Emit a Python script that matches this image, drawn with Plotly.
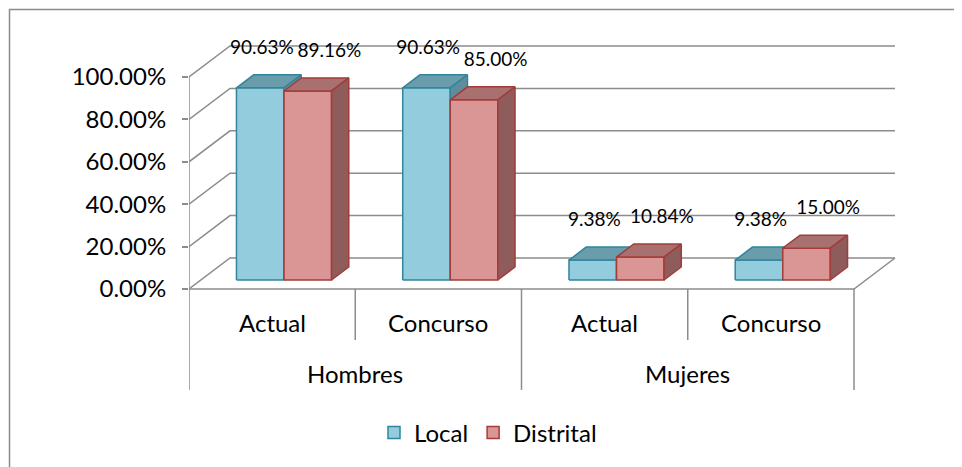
import plotly.graph_objects as go

# ---- data ----
groups = ["Hombres", "Mujeres"]
subcats = ["Actual", "Concurso", "Actual", "Concurso"]
series_names = ["Local", "Distrital"]
local_vals = [0.9063, 0.9063, 0.0938, 0.0938]
distrital_vals = [0.8916, 0.8500, 0.1084, 0.1500]
tick_vals = [0.0, 0.2, 0.4, 0.6, 0.8, 1.0]
tick_text = ["0.00%", "20.00%", "40.00%", "60.00%", "80.00%", "100.00%"]

# ---- style ----
FONT = "Lato"
GRID = "#8C8C8C"
front_col = ["#93CDDD", "#D99694"]
line_col = ["#31859C", "#A33C3A"]
top_col = ["#6A9DAB", "#A8706F"]
side_col = ["#5E8E9B", "#8E5C5B"]

# pseudo-3D geometry (x in category units, y in value units)
DX = 41 / 166.25      # full depth x-offset
DY = 31 / 212         # full depth y-offset
F0, F1 = 0.29, 0.71   # bar front/back depth fractions
BW = 0.286            # bar width
N = len(subcats)

fig = go.Figure()

def poly(xs, ys, fill, line):
    fig.add_trace(go.Scatter(x=xs + [xs[0]], y=ys + [ys[0]], mode="lines", fill="toself",
                             fillcolor=fill, line=dict(color=line, width=1.5),
                             hoverinfo="skip", showlegend=False))

def wall_line(xs, ys, width=1.5):
    fig.add_trace(go.Scatter(x=xs, y=ys, mode="lines", line=dict(color=GRID, width=width),
                             hoverinfo="skip", showlegend=False))

# back wall gridlines + left wall diagonals
for v in tick_vals:
    wall_line([0, DX, N + DX], [v, v + DY, v + DY])
# floor outline
wall_line([0, N, N + DX], [0, 0, DY])
# front-left axis line + category dividers
ybot_long = -0.476
ybot_short = -0.24
wall_line([0, 0], [1.0, ybot_long])
for i in range(1, N + 1):
    yb = ybot_long if i % 2 == 0 else ybot_short
    wall_line([i, i], [0, yb])

# bars
all_vals = [local_vals, distrital_vals]
b0 = F0 * DY
d = (F1 - F0) * DX
e = (F1 - F0) * DY
for i in range(N):
    c = i + 0.5
    for s, vals in enumerate(all_vals):
        v = vals[i]
        xl = c - BW + s * BW + F0 * DX
        xr = xl + BW
        top = b0 + v
        # front
        poly([xl, xr, xr, xl], [b0, b0, top, top], front_col[s], line_col[s])
        # top
        poly([xl, xr, xr + d, xl + d], [top, top, top + e, top + e], top_col[s], line_col[s])
        # side
        poly([xr, xr + d, xr + d, xr], [b0, b0 + e, top + e, top], side_col[s], line_col[s])

# data labels
label_shift = [0.01, 0.13]
for s, vals in enumerate(all_vals):
    xs = [i + 0.5 - BW / 2 + s * BW + F0 * DX + label_shift[s] for i in range(N)]
    ys = [v + F1 * DY + 26 / 212 for v in vals]
    fig.add_trace(go.Scatter(x=xs, y=ys, mode="text", text=[f"{v*100:.2f}%" for v in vals],
                             textposition="middle center",
                             textfont=dict(family=FONT, size=19, color="#000"),
                             hoverinfo="skip", showlegend=False))

# legend entries
for s, name in enumerate(series_names):
    fig.add_trace(go.Bar(x=[None], y=[None], name=name,
                         marker=dict(color=front_col[s], line=dict(color=line_col[s], width=1.5))))

# category labels
for i, lab in enumerate(subcats):
    fig.add_annotation(x=i + 0.5, y=-0.16, text=lab, showarrow=False,
                       font=dict(family=FONT, size=24, color="#000"))
for g, lab in enumerate(groups):
    fig.add_annotation(x=2 * g + 1, y=-0.40, text=lab, showarrow=False,
                       font=dict(family=FONT, size=24, color="#000"))

# page body margin offset (8px) -> work in figure pixel coords
OFF = 8
W, H = 962 - OFF, 467 - OFF
L, R, T, B = 189 - OFF, 905 - OFF, 25 - OFF, 400 - OFF
xunit = 166.25
yunit = 212
y0px = 289 - OFF
fig.update_layout(
    width=W, height=H,
    margin=dict(l=L, r=W - R, t=T, b=H - B, pad=0),
    paper_bgcolor="white", plot_bgcolor="white",
    xaxis=dict(range=[0, (R - L) / xunit], visible=False, fixedrange=True),
    yaxis=dict(range=[-(B - y0px) / yunit, (y0px - T) / yunit], tickvals=tick_vals, ticktext=tick_text,
               ticks="outside", ticklen=6, tickcolor=GRID, tickwidth=1.5, showgrid=False,
               zeroline=False, showline=False, ticklabelstandoff=11,
               tickfont=dict(family=FONT, size=24, color="#000"), fixedrange=True),
    showlegend=True,
    legend=dict(orientation="h", x=(488 - OFF - L) / (R - L), xanchor="center",
                y=-(433 - OFF - B) / (B - T), yanchor="middle",
                font=dict(family=FONT, size=24, color="#000"), bgcolor="rgba(0,0,0,0)",
                traceorder="normal"),
    shapes=[dict(type="rect", xref="paper", yref="paper",
                 x0=(9.5 - OFF - L) / (R - L), x1=(1000 - L) / (R - L),
                 y0=(B - 520) / (B - T), y1=(B - (9.5 - OFF)) / (B - T),
                 line=dict(color="#8C8C8C", width=1.5), fillcolor="rgba(0,0,0,0)", layer="below")],
)

fig.write_html("out.html")
